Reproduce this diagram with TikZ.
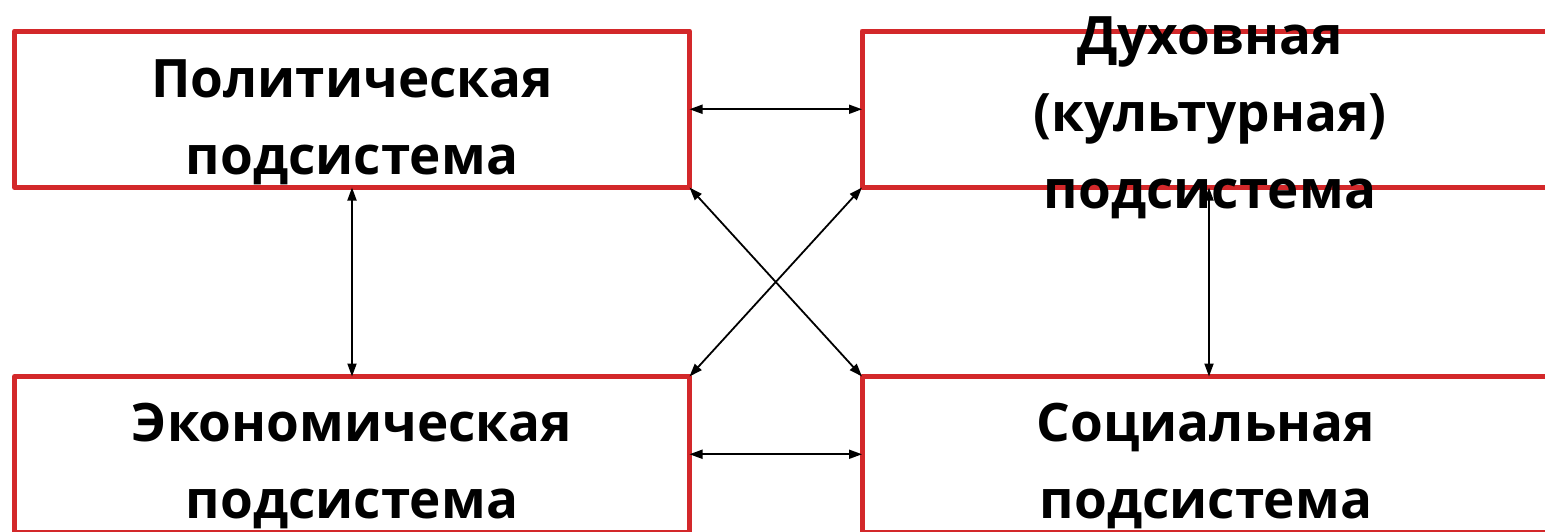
\documentclass[tikz,border=0pt]{standalone}
\usepackage{fontspec}
\setmainfont{Open Sans}
\usetikzlibrary{arrows.meta}
\definecolor{boxred}{RGB}{211,40,42}
\begin{document}
\begin{tikzpicture}[x=1pt,y=-1pt,
  sysbox/.style={draw=boxred, line width=5pt, line join=round, outer sep=0pt, inner sep=0pt, rectangle},
  systext/.style={font=\fontsize{53}{77}\selectfont\bfseries, align=center, inner sep=0pt, anchor=base, text=black},
  link/.style={line width=1.8pt, {Triangle[length=13pt,width=9pt]}-{Triangle[length=13pt,width=9pt]}}]
\useasboundingbox (0,0) rectangle (1545,531);
\node[sysbox, minimum width=675pt, minimum height=156.5pt] (TL) at (352,109.25) {};
\node[sysbox, minimum width=694pt, minimum height=156.5pt] (TR) at (1209,109.25) {};
\node[sysbox, minimum width=675pt, minimum height=155.5pt] (BL) at (352,454.25) {};
\node[sysbox, minimum width=694pt, minimum height=155.5pt] (BR) at (1209,454.25) {};
\node[systext] (tTL) at (352,174) {Политическая\\подсистема};
\node[systext] (tTR) at (1210,208) {Духовная\\(культурная)\\подсистема};
\node[systext] (tBL) at (352,518) {Экономическая\\подсистема};
\node[systext] (tBR) at (1206,518) {Социальная\\подсистема};
\draw[link] (TL.east) -- (TR.west);
\draw[link] (BL.east) -- (BR.west);
\draw[link] (TL.south) -- (BL.north);
\draw[link] (TR.south) -- (BR.north);
\draw[link] (TL.south east) -- (BR.north west);
\draw[link] (TR.south west) -- (BL.north east);
\end{tikzpicture}
\end{document}
